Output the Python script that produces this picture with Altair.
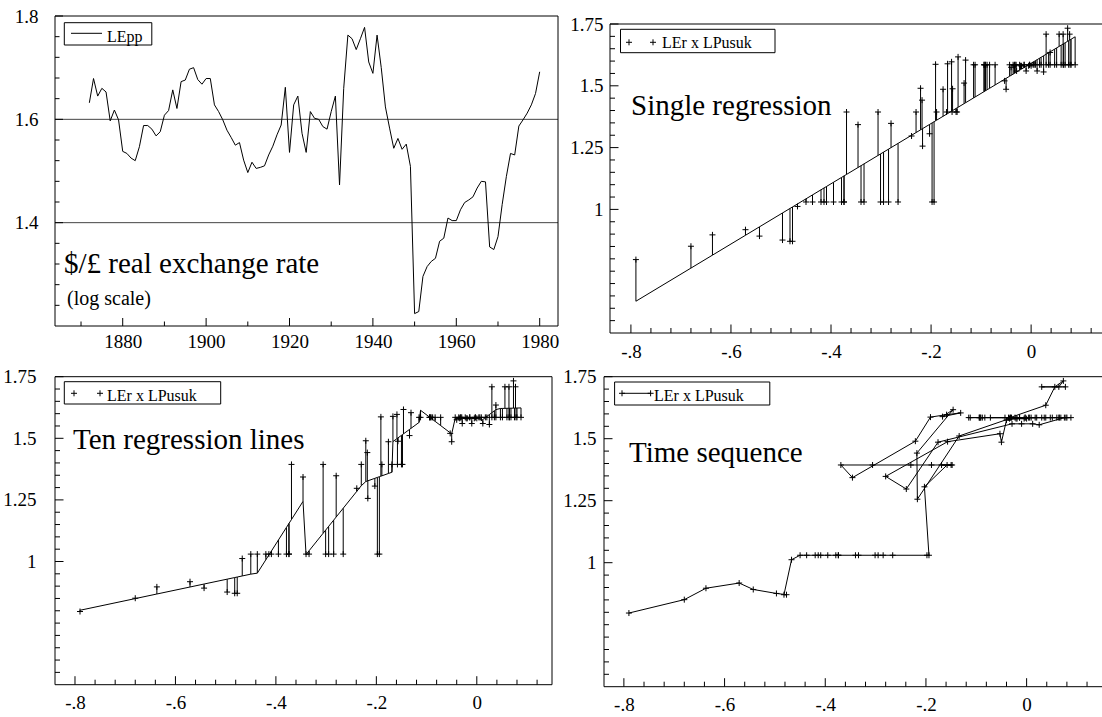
import altair as alt
import numpy as np
import pandas as pd

FONT = "Liberation Serif"
CROSS = "M-1,0H1M0,-1V1"

# ---------------- data ----------------
years_pp = list(range(1872, 1981))
lepp = [1.632, 1.679, 1.645, 1.660, 1.653, 1.597, 1.618, 1.599, 1.538, 1.534,   # 1872-1881
        1.525, 1.520, 1.547, 1.588, 1.588, 1.581, 1.568, 1.576, 1.608, 1.617,   # 1882-1891
        1.657, 1.621, 1.673, 1.676, 1.697, 1.700, 1.677, 1.668, 1.679, 1.679,   # 1892-1901
        1.628, 1.615, 1.599, 1.579, 1.565, 1.550, 1.555, 1.521, 1.497, 1.517,   # 1902-1911
        1.505, 1.507, 1.510, 1.531, 1.548, 1.570, 1.589, 1.662, 1.536, 1.628,   # 1912-1921
        1.645, 1.573, 1.536, 1.615, 1.602, 1.600, 1.586, 1.581, 1.615, 1.645,   # 1922-1931
        1.473, 1.660, 1.763, 1.756, 1.735, 1.756, 1.778, 1.711, 1.689, 1.763,   # 1932-1941
        1.700, 1.624, 1.583, 1.544, 1.563, 1.542, 1.552, 1.509, 1.224, 1.228,   # 1942-1951
        1.296, 1.315, 1.325, 1.331, 1.364, 1.370, 1.409, 1.404, 1.404, 1.425,   # 1952-1961
        1.439, 1.444, 1.450, 1.467, 1.480, 1.479, 1.353, 1.348, 1.373, 1.435,   # 1962-1971
        1.489, 1.534, 1.531, 1.587, 1.599, 1.612, 1.628, 1.650, 1.692]          # 1972-1980

years_er = list(range(1872, 1976))
ler = [1.709, 1.709, 1.709, 1.733, 1.709, 1.635, 1.585, 1.585, 1.585, 1.585,   # 1872-1881
       1.585, 1.585, 1.585, 1.585, 1.585, 1.585, 1.585, 1.585, 1.585, 1.585,   # 1882-1891
       1.585, 1.585, 1.585, 1.585, 1.585, 1.585, 1.585, 1.585, 1.585, 1.585,   # 1892-1901
       1.585, 1.585, 1.585, 1.585, 1.585, 1.585, 1.585, 1.585, 1.585, 1.585,   # 1902-1911
       1.585, 1.585, 1.585, 1.556, 1.560, 1.560, 1.560, 1.486, 1.297, 1.348,   # 1912-1921
       1.488, 1.520, 1.486, 1.575, 1.581, 1.581, 1.581, 1.581, 1.581, 1.511,   # 1922-1931
       1.256, 1.442, 1.617, 1.589, 1.604, 1.597, 1.587, 1.490, 1.343, 1.394,   # 1932-1941
       1.394, 1.394, 1.394, 1.394, 1.394, 1.394, 1.394, 1.306, 1.030, 1.030,   # 1942-1951
       1.030, 1.030, 1.030, 1.030, 1.030, 1.030, 1.030, 1.030, 1.030, 1.030,   # 1952-1961
       1.030, 1.030, 1.030, 1.030, 1.030, 1.012, 0.871, 0.871, 0.876, 0.892,   # 1962-1971
       0.918, 0.897, 0.851, 0.797]                                             # 1972-1975

# LPusuk = LEr - LEpp (identity linking the panels)
lpusuk = [round(e - p, 4) for e, p in zip(ler, lepp)]

# axis tick values
year_major = [1880, 1900, 1920, 1940, 1960, 1980]
year_minor = [1870, 1890, 1910, 1930, 1950, 1970]
pp_major = [1.4, 1.6, 1.8]
pp_minor = [1.24, 1.28, 1.32, 1.36, 1.44, 1.48, 1.52, 1.56, 1.64, 1.68, 1.72, 1.76]
pp_grid = [1.4, 1.6]
sx_major = [-0.8, -0.6, -0.4, -0.2, 0.0]
sx_minor = [-0.76, -0.72, -0.68, -0.64, -0.56, -0.52, -0.48, -0.44, -0.36, -0.32,
            -0.28, -0.24, -0.16, -0.12, -0.08, -0.04, 0.04, 0.08, 0.12]
sy_major = [1.0, 1.25, 1.5, 1.75]
sy_minor = [0.55, 0.6, 0.65, 0.7, 0.75, 0.8, 0.85, 0.9, 0.95, 1.05, 1.1, 1.15, 1.2,
            1.3, 1.35, 1.4, 1.45, 1.55, 1.6, 1.65, 1.7]

# ---------------- derived tables ----------------
df_pp = pd.DataFrame({"year": years_pp, "lepp": lepp})
sc = pd.DataFrame({"year": years_er, "ler": ler, "lpusuk": lpusuk})
xv = sc["lpusuk"].to_numpy()
yv = sc["ler"].to_numpy()
b1, a1 = np.polyfit(xv, yv, 1)
sc["fit1"] = a1 + b1 * xv

order = np.argsort(xv, kind="stable")
grp = np.zeros(len(xv), dtype=int)
grp[order] = np.minimum(np.arange(len(xv)) // 10, 9)
sc["grp"] = grp
fit10 = np.zeros(len(xv))
for g in range(10):
    m = grp == g
    bg, ag = np.polyfit(xv[m], yv[m], 1)
    fit10[m] = ag + bg * xv[m]
sc["fit10"] = fit10

one = pd.DataFrame({"k": [0]})

AX = dict(ticks=False, tickSize=0, domain=False, grid=False, labelFont=FONT,
          labelFontSize=19, labelColor="black", labelFlush=False,
          labelOverlap=False, title=None)
SX_EXPR = ("datum.value == 0 ? '0' : (datum.value < 0 ? '-' : '') + "
           "replace(format(abs(datum.value), '.1f'), '0.', '.')")
SY_EXPR = "toString(datum.value)"


def sx_axis(pad):
    return alt.Axis(values=sx_major, labelExpr=SX_EXPR, labelPadding=pad, **AX)


def sy_axis(pad):
    return alt.Axis(values=sy_major, labelExpr=SY_EXPR, labelPadding=pad, **AX)


class Panel:
    def __init__(self, xs, ys, ax, ay):
        self.xs, self.ys, self.ax, self.ay = xs, ys, ax, ay

    def X(self, f):
        return alt.X(f, scale=self.xs, axis=self.ax)

    def Y(self, f):
        return alt.Y(f, scale=self.ys, axis=self.ay)

    def ticks_x(self, vals, h, ln):
        return alt.Chart(pd.DataFrame({"v": vals})).mark_rule(color="black", strokeWidth=1).encode(
            x=self.X("v:Q"), y=alt.value(h), y2=alt.value(h - ln))

    def ticks_y(self, vals, x0, ln):
        return alt.Chart(pd.DataFrame({"v": vals})).mark_rule(color="black", strokeWidth=1).encode(
            y=self.Y("v:Q"), x=alt.value(x0), x2=alt.value(x0 + ln))

    def frame(self, x0, x1, y0, y1):
        return alt.Chart(pd.DataFrame({"x0": [x0], "x1": [x1], "y0": [y0], "y1": [y1]})).mark_rect(
            fillOpacity=0, stroke="black", strokeWidth=1).encode(
            x=self.X("x0:Q"), x2="x1:Q", y=self.Y("y0:Q"), y2="y1:Q")

    def points(self):
        return alt.Chart(sc).mark_point(shape=CROSS, size=36, filled=False, color="black",
                                        strokeWidth=1, opacity=1).encode(
            x=self.X("lpusuk:Q"), y=self.Y("ler:Q"))

    def resid(self, fit):
        return alt.Chart(sc).mark_rule(color="black", strokeWidth=1).encode(
            x=self.X("lpusuk:Q"), y=self.Y("ler:Q"), y2=f"{fit}:Q")

    def fitline(self, fit):
        return alt.Chart(sc).mark_line(color="black", strokeWidth=1).encode(
            x=self.X("lpusuk:Q"), y=self.Y(f"{fit}:Q"), order="lpusuk:Q")


def text(s, x, y, size):
    return alt.Chart(pd.DataFrame({"t": [s]})).mark_text(
        font=FONT, fontSize=size, align="left", baseline="alphabetic", color="black").encode(
        text="t:N", x=alt.value(x), y=alt.value(y))


def box(x0, y0, x1, y1):
    return alt.Chart(one).mark_rect(fill="white", stroke="black", strokeWidth=1).encode(
        x=alt.value(x0), x2=alt.value(x1), y=alt.value(y0), y2=alt.value(y1))


def hline(x0, x1, y):
    return alt.Chart(one).mark_rule(color="black", strokeWidth=1).encode(
        x=alt.value(x0), x2=alt.value(x1), y=alt.value(y))


def cross_px(x, y):
    return alt.Chart(one).mark_point(shape=CROSS, size=36, filled=False, color="black",
                                     strokeWidth=1, opacity=1).encode(x=alt.value(x), y=alt.value(y))


# ---------------- top-left: LEpp over time ----------------
W1, H1 = 503, 310
p1 = Panel(alt.Scale(domain=[1863.76, 1984.39], nice=False, zero=False),
           alt.Scale(domain=[1.2, 1.8], nice=False, zero=False),
           alt.Axis(values=year_major, format="d", labelPadding=6, **AX),
           alt.Axis(values=pp_major, format=".1f", labelPadding=17, **AX))
tl = alt.layer(
    alt.Chart(pd.DataFrame({"v": pp_grid})).mark_rule(color="#444444", strokeWidth=1).encode(
        y=p1.Y("v:Q"), x=alt.value(0), x2=alt.value(W1)),
    alt.Chart(df_pp).mark_line(color="black", strokeWidth=1).encode(
        x=p1.X("year:Q"), y=p1.Y("lepp:Q")),
    p1.ticks_x(year_major, H1, 8), p1.ticks_x(year_minor, H1, 4.5),
    p1.ticks_y(pp_major, 0, 8), p1.ticks_y(pp_minor, 0, 4.5),
    p1.frame(1863.76, 1984.39, 1.2, 1.8),
    box(9.3, 6.7, 96.8, 29), hline(16, 47, 17.3), text("LEpp", 52, 25.5, 16),
    text("$/£ real exchange rate", 9, 256.7, 29),
    text("(log scale)", 12, 289, 20),
).properties(width=W1, height=H1)

# ---------------- top-right: single regression ----------------
W2, H2 = 500, 317
p2 = Panel(alt.Scale(domain=[-0.8538, 0.1457], nice=False, zero=False),
           alt.Scale(domain=[0.5, 1.7824], nice=False, zero=False),
           sx_axis(9), sy_axis(1))
tr = alt.layer(
    p2.resid("fit1"), p2.fitline("fit1"), p2.points(),
    p2.ticks_x(sx_major, H2, 8.5), p2.ticks_x(sx_minor, H2, 5),
    p2.ticks_y(sy_major, 6, 8.5), p2.ticks_y(sy_minor, 6, 5),
    p2.frame(-0.8418, 0.1457, 0.5, 1.75),
    box(16.5, 13.3, 171, 36.7), cross_px(25, 26.3), cross_px(49, 26.3),
    text("LEr x LPusuk", 58, 32.3, 16),
    text("Single regression", 27, 99, 29),
).properties(width=W2, height=H2)

# ---------------- bottom-left: ten regressions ----------------
W3, H3 = 497, 308
p3 = Panel(alt.Scale(domain=[-0.8398, 0.1497], nice=False, zero=False),
           alt.Scale(domain=[0.5, 1.75], nice=False, zero=False),
           sx_axis(9), sy_axis(19))
bl = alt.layer(
    p3.resid("fit10"), p3.fitline("fit10"), p3.points(),
    p3.ticks_x(sx_major, H3, 8.5), p3.ticks_x(sx_minor, H3, 5),
    p3.ticks_y(sy_major, 0, 8.5), p3.ticks_y(sy_minor, 0, 5),
    p3.frame(-0.8398, 0.1497, 0.5, 1.75),
    box(9.3, 5, 165.7, 27.3), cross_px(19, 16.6), cross_px(45, 16.6),
    text("LEr x LPusuk", 52, 24, 16),
    text("Ten regression lines", 18, 72.6, 29),
).properties(width=W3, height=H3)

# ---------------- bottom-right: time sequence ----------------
W4, H4 = 500, 310
p4 = Panel(alt.Scale(domain=[-0.8395, 0.1537], nice=False, zero=False),
           alt.Scale(domain=[0.5, 1.75], nice=False, zero=False),
           sx_axis(9), sy_axis(8))
br = alt.layer(
    alt.Chart(sc).mark_line(color="black", strokeWidth=1).encode(
        x=p4.X("lpusuk:Q"), y=p4.Y("ler:Q"), order="year:Q"),
    p4.points(),
    p4.ticks_x(sx_major, H4, 8.5), p4.ticks_x(sx_minor, H4, 5),
    p4.ticks_y(sy_major, 0, 8.5), p4.ticks_y(sy_minor, 0, 5),
    p4.frame(-0.8395, 0.1537, 0.5, 1.75),
    box(10.6, 5.3, 165.8, 28.3), hline(18, 46.6, 16.6), cross_px(18, 16.6), cross_px(46.6, 16.6),
    text("LEr x LPusuk", 50, 24, 16),
    text("Time sequence", 25, 85, 29),
).properties(width=W4, height=H4)

chart = alt.concat(tl, tr, bl, br, columns=2,
                   spacing=alt.RowColnumber(row=43.7, column=46), bounds="flush").properties(
    autosize=alt.AutoSizeParams(type="none"),
    padding={"left": 55, "top": 16, "right": 1047, "bottom": 701},
).configure_view(strokeWidth=0)

chart.save("out.html", embed_options={"renderer": "svg", "actions": False})
